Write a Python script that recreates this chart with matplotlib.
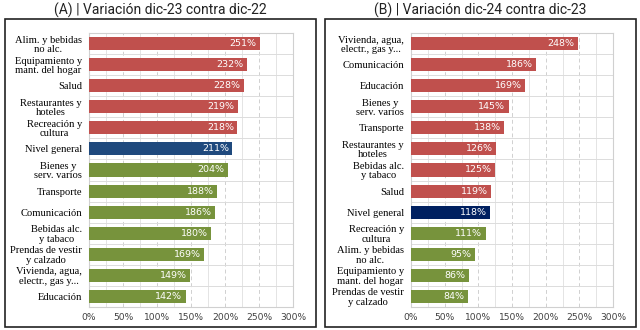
import matplotlib.pyplot as plt
from matplotlib.patches import Rectangle

# Panel A: variation dic-23 vs dic-22
cats_a = ["Alim. y bebidas\nno alc.", "Equipamiento y\nmant. del hogar", "Salud",
          "Restaurantes y\nhoteles", "Recreación y\ncultura", "Nivel general",
          "Bienes y\nserv. varios", "Transporte", "Comunicación",
          "Bebidas alc.\ny tabaco", "Prendas de vestir\ny calzado",
          "Vivienda, agua,\nelectr., gas y...", "Educación"]
vals_a = [251, 232, 228, 219, 218, 211, 204, 188, 186, 180, 169, 149, 142]
cols_a = ["r"] * 5 + ["g0"] + ["g"] * 7

# Panel B: variation dic-24 vs dic-23
cats_b = ["Vivienda, agua,\nelectr., gas y...", "Comunicación", "Educación",
          "Bienes y\nserv. varios", "Transporte", "Restaurantes y\nhoteles",
          "Bebidas alc.\ny tabaco", "Salud", "Nivel general",
          "Recreación y\ncultura", "Alim. y bebidas\nno alc.",
          "Equipamiento y\nmant. del hogar", "Prendas de vestir\ny calzado"]
vals_b = [248, 186, 169, 145, 138, 126, 125, 119, 118, 111, 95, 86, 84]
cols_b = ["r"] * 8 + ["g1"] + ["g"] * 4

ticks = [0, 50, 100, 150, 200, 250, 300]
palette = {"r": "#C0504D", "g": "#77933C", "g0": "#1F497D", "g1": "#002060"}

fig = plt.figure(figsize=(6.4, 3.3), dpi=100)
W, H = 640, 330


def panel(left, width, cats, vals, cols, title, box_x):
    ax = fig.add_axes([left / W, 23 / H, width / W, 274 / H])
    n = len(cats)
    y = list(range(n))
    ax.barh(y, vals, height=0.62, color=[palette[c] for c in cols], zorder=3)
    for yi, v in zip(y, vals):
        ax.text(v - 5, yi, f"{v}%", ha="right", va="center", color="white",
                fontsize=6.8, family="DejaVu Sans", zorder=4)
    ax.set_xlim(0, 300)
    ax.set_ylim(n - 0.5, -0.5)
    ax.set_yticks(y)
    ax.set_yticklabels(cats, family="Liberation Serif", fontsize=7.6,
                       linespacing=1.05)
    for lbl in ax.get_yticklabels():
        lbl.set_multialignment("center")
    ax.set_xticks(ticks)
    ax.set_xticklabels([f"{t}%" for t in ticks], fontsize=6.6, color="#404040")
    ax.tick_params(axis="y", length=0, pad=5)
    ax.tick_params(axis="x", length=0, pad=4)
    # grid: dashed at 50%, light solid at 25%
    for t in range(25, 300, 50):
        ax.axvline(t, color="#e4e4e4", lw=0.7, zorder=1)
    for t in range(50, 300, 50):
        ax.axvline(t, color="#d0d0d0", lw=0.7, ls=(0, (4, 3)), zorder=1)
    for b in range(n - 1):
        ax.axhline(b + 0.5, color="#dcdcdc", lw=0.7, zorder=1)
    for s in ax.spines.values():
        s.set_color("#d0d0d0")
        s.set_linewidth(0.8)
    # outer black frame
    fig.patches.append(Rectangle((box_x / W, 3 / H), 311 / W, 308 / H,
                                 transform=fig.transFigure, fill=False,
                                 edgecolor="#222222", lw=1.2))
    fig.text((box_x + 155) / W, 1 - 10 / H, title, ha="center", va="center",
             fontsize=10, family="Roboto", color="#222222")
    return ax


panel(89, 204, cats_a, vals_a, cols_a, "(A) | Variación dic-23 contra dic-22", 5)
panel(411, 202, cats_b, vals_b, cols_b, "(B) | Variación dic-24 contra dic-23", 325)

fig.savefig("out.png", dpi=100)
